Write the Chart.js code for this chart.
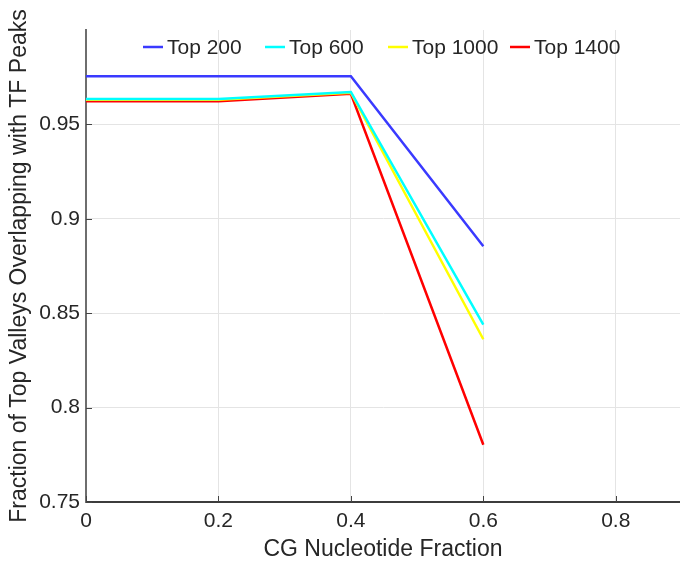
<!DOCTYPE html>
<html>
<head>
<meta charset="utf-8">
<script src="https://cdn.jsdelivr.net/npm/chart.js@4.4.1/dist/chart.umd.min.js"></script>
<style>
  html, body { margin: 0; padding: 0; background: #ffffff; }
  canvas { display: block; }
</style>
</head>
<body>
<canvas id="c" width="680" height="567"></canvas>
<script>
// ---- data ----
const cgFraction = [0, 0.2, 0.4, 0.6];
const seriesLabels = ['Top 200', 'Top 600', 'Top 1000', 'Top 1400'];
const top200  = [0.9755, 0.9755, 0.9755, 0.8855];
const top600  = [0.9635, 0.9635, 0.9672, 0.8440];
const top1000 = [0.9630, 0.9630, 0.9668, 0.8362];
const top1400 = [0.9622, 0.9622, 0.9662, 0.7803];
const seriesColors = ['#3a3aff', '#00ffff', '#ffff00', '#ff0000'];
const xTicks = [0, 0.2, 0.4, 0.6, 0.8];
const yTicks = [0.75, 0.8, 0.85, 0.9, 0.95];

const allSeries = [top200, top600, top1000, top1400];
const FONT = "'Liberation Sans', Arial, Helvetica, sans-serif";
const TEXT = '#262626';

const datasets = allSeries.map((vals, i) => ({
  label: seriesLabels[i],
  data: cgFraction.map((x, j) => ({ x: x, y: vals[j] })),
  borderColor: seriesColors[i],
  backgroundColor: seriesColors[i],
  borderWidth: 2.5,
  pointRadius: 0,
  tension: 0,
  fill: false
}));

// Legend drawn inside the plot area, MATLAB style
const legendPlugin = {
  id: 'insideLegend',
  afterDraw(chart) {
    const ctx = chart.ctx;
    const starts = [143, 265, 388, 510];
    const y = 47;
    ctx.save();
    ctx.font = '21px ' + FONT;
    ctx.textBaseline = 'middle';
    ctx.textAlign = 'left';
    chart.data.datasets.forEach((ds, i) => {
      const x = starts[i];
      ctx.strokeStyle = ds.borderColor;
      ctx.lineWidth = 2.5;
      ctx.beginPath();
      ctx.moveTo(x, y);
      ctx.lineTo(x + 20, y);
      ctx.stroke();
      ctx.fillStyle = TEXT;
      ctx.fillText(ds.label, x + 24, y + 1);
    });
    ctx.restore();
  }
};

// Inward tick marks on the left and bottom axes
const innerTicks = {
  id: 'innerTicks',
  afterDatasetsDraw(chart) {
    const ctx = chart.ctx;
    const a = chart.chartArea;
    const xs = chart.scales.x, ys = chart.scales.y;
    ctx.save();
    ctx.strokeStyle = '#444';
    ctx.lineWidth = 1;
    yTicks.forEach(v => {
      const py = Math.round(ys.getPixelForValue(v)) + 0.5;
      ctx.beginPath(); ctx.moveTo(a.left, py); ctx.lineTo(a.left + 6, py); ctx.stroke();
    });
    xTicks.forEach(v => {
      const px = Math.round(xs.getPixelForValue(v)) + 0.5;
      ctx.beginPath(); ctx.moveTo(px, a.bottom); ctx.lineTo(px, a.bottom - 6); ctx.stroke();
    });
    ctx.restore();
  }
};

new Chart(document.getElementById('c'), {
  type: 'line',
  data: { datasets: datasets },
  options: {
    responsive: false,
    animation: false,
    devicePixelRatio: 1,
    layout: { padding: { top: 30, right: 0, bottom: 0, left: 0 } },
    plugins: {
      legend: { display: false },
      tooltip: { enabled: false }
    },
    scales: {
      x: {
        type: 'linear',
        min: 0,
        max: 0.897,
        afterBuildTicks(scale) { scale.ticks = xTicks.map(v => ({ value: v })); },
        afterFit(scale) { scale.height = 65; scale.paddingRight = 0; scale.paddingLeft = 0; },
        ticks: {
          padding: 7,
          color: TEXT,
          font: { family: FONT, size: 21 },
          maxRotation: 0,
          autoSkip: false,
          callback: v => String(+Number(v).toFixed(2))
        },
        grid: {
          drawTicks: false,
          lineWidth: 1,
          color: '#e4e4e4'
        },
        border: { display: true, color: '#3c3c3c', width: 2 },
        title: {
          display: true,
          text: 'CG Nucleotide Fraction',
          color: TEXT,
          font: { family: FONT, size: 23 },
          padding: { top: 0, bottom: 4 }
        }
      },
      y: {
        type: 'linear',
        min: 0.75,
        max: 1.0,
        afterBuildTicks(scale) { scale.ticks = yTicks.map(v => ({ value: v })); },
        afterFit(scale) { scale.width = 86; },
        ticks: {
          padding: 6,
          color: TEXT,
          font: { family: FONT, size: 21 },
          callback: v => String(+Number(v).toFixed(2))
        },
        grid: {
          drawTicks: false,
          lineWidth: 1,
          color: '#e4e4e4'
        },
        border: { display: true, color: '#6e6e6e', width: 2 },
        title: {
          display: true,
          text: 'Fraction of Top Valleys Overlapping with TF Peaks',
          color: TEXT,
          font: { family: FONT, size: 23 },
          padding: { top: 6, bottom: 0 }
        }
      }
    }
  },
  plugins: [legendPlugin, innerTicks]
});
</script>
</body>
</html>
